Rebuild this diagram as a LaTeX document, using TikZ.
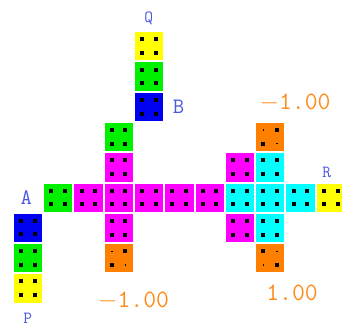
\documentclass[tikz,border=0pt]{standalone}
\usepackage{tikz}
\usetikzlibrary{positioning}
\definecolor{CellYellow}{HTML}{FFFF00}
\definecolor{CellGreen}{HTML}{00F000}
\definecolor{CellBlue}{HTML}{0000F0}
\definecolor{CellMagenta}{HTML}{FF00FF}
\definecolor{CellCyan}{HTML}{00FFFF}
\definecolor{CellOrange}{HTML}{FF8000}
\definecolor{LabelBlue}{HTML}{4858E0}
\definecolor{ValueOrange}{HTML}{FF8C1A}

\begin{document}
\begin{tikzpicture}[
            node distance=0.4pt,
            tile/.style={draw=white, line width=0.6pt, minimum size=29.3pt, inner sep=0pt, fill=#1},
            cell/.style={tile=#1, path picture={
                \foreach \dx/\dy in {-1/-1,1/-1,-1/1,1/1}
                    \fill[black] ([xshift=\dx*6.8pt, yshift=\dy*6.8pt]path picture bounding box.center) ++(-2pt,-2pt) rectangle ++(4pt,4pt);}},
            spot/.style={tile=CellOrange, path picture={
                \foreach \dx/\dy in {-1/-1,1/-1,-1/1,1/1}{
                    \pgfmathsetmacro\s{\dx*\dy==#1 ? 4 : 1.5}
                    \fill[black] ([xshift=\dx*6.8pt, yshift=\dy*6.8pt]path picture bounding box.center) ++(-0.5*\s*1pt,-0.5*\s*1pt) rectangle ++(\s*1pt,\s*1pt);}}},
            big/.style={text=LabelBlue, inner sep=0pt, font=\ttfamily\fontsize{22}{22}\selectfont},
            small/.style={text=LabelBlue, inner sep=0pt, font=\ttfamily\fontsize{17}{17}\selectfont},
            val/.style={text=ValueOrange, inner sep=0pt, font=\ttfamily\fontsize{25}{25}\selectfont}
        ]
            \useasboundingbox (0,0) rectangle (342pt,-327pt);

            % main row
            \node[cell=CellGreen] (c0) at (58pt,-197.5pt) {};
            \node[cell=CellMagenta, right=of c0] (c1) {};
            \node[cell=CellMagenta, right=of c1] (c2) {};
            \node[cell=CellMagenta, right=of c2] (c3) {};
            \node[cell=CellMagenta, right=of c3] (c4) {};
            \node[cell=CellMagenta, right=of c4] (c5) {};
            \node[cell=CellCyan, right=of c5] (c6) {};
            \node[cell=CellCyan, right=of c6] (c7) {};
            \node[cell=CellCyan, right=of c7] (c8) {};
            \node[cell=CellYellow, right=of c8] (c9) {};

            % column P
            \node[cell=CellBlue, below left=of c0] (pa) {};
            \node[cell=CellGreen, below=of pa] (pg) {};
            \node[cell=CellYellow, below=of pg] (py) {};

            % first cross
            \node[cell=CellMagenta, above=of c2] (c2u1) {};
            \node[cell=CellGreen, above=of c2u1] (c2u2) {};
            \node[cell=CellMagenta, below=of c2] (c2d1) {};
            \node[spot=1, below=of c2d1] (c2d2) {};

            % column Q
            \node[cell=CellBlue, above right=of c2u2] (qb) {};
            \node[cell=CellGreen, above=of qb] (qg) {};
            \node[cell=CellYellow, above=of qg] (qy) {};

            % second cross
            \node[cell=CellMagenta, above=of c6] (c6u1) {};
            \node[cell=CellMagenta, below=of c6] (c6d1) {};
            \node[cell=CellCyan, above=of c7] (c7u1) {};
            \node[spot=1, above=of c7u1] (c7u2) {};
            \node[cell=CellCyan, below=of c7] (c7d1) {};
            \node[spot=-1, below=of c7d1] (c7d2) {};

            % labels
            \node[small, above=6pt of qy] (lq) {Q};
            \node[big, right=9pt of qb] (lb) {B};
            \node[big, left=11pt of c0] (la) {A};
            \node[small, below=10pt of py] (lp) {P};
            \node[small, above=5pt of c9, xshift=-4pt] (lr) {R};

            \node[val, above=10pt of c7u2, xshift=25pt] (v1) {$-$1.00};
            \node[val, below=19pt of c2d2, xshift=15pt] (v2) {$-$1.00};
            \node[val, below=12pt of c7d2, xshift=22pt] (v3) {1.00};
        \end{tikzpicture}
\end{document}
